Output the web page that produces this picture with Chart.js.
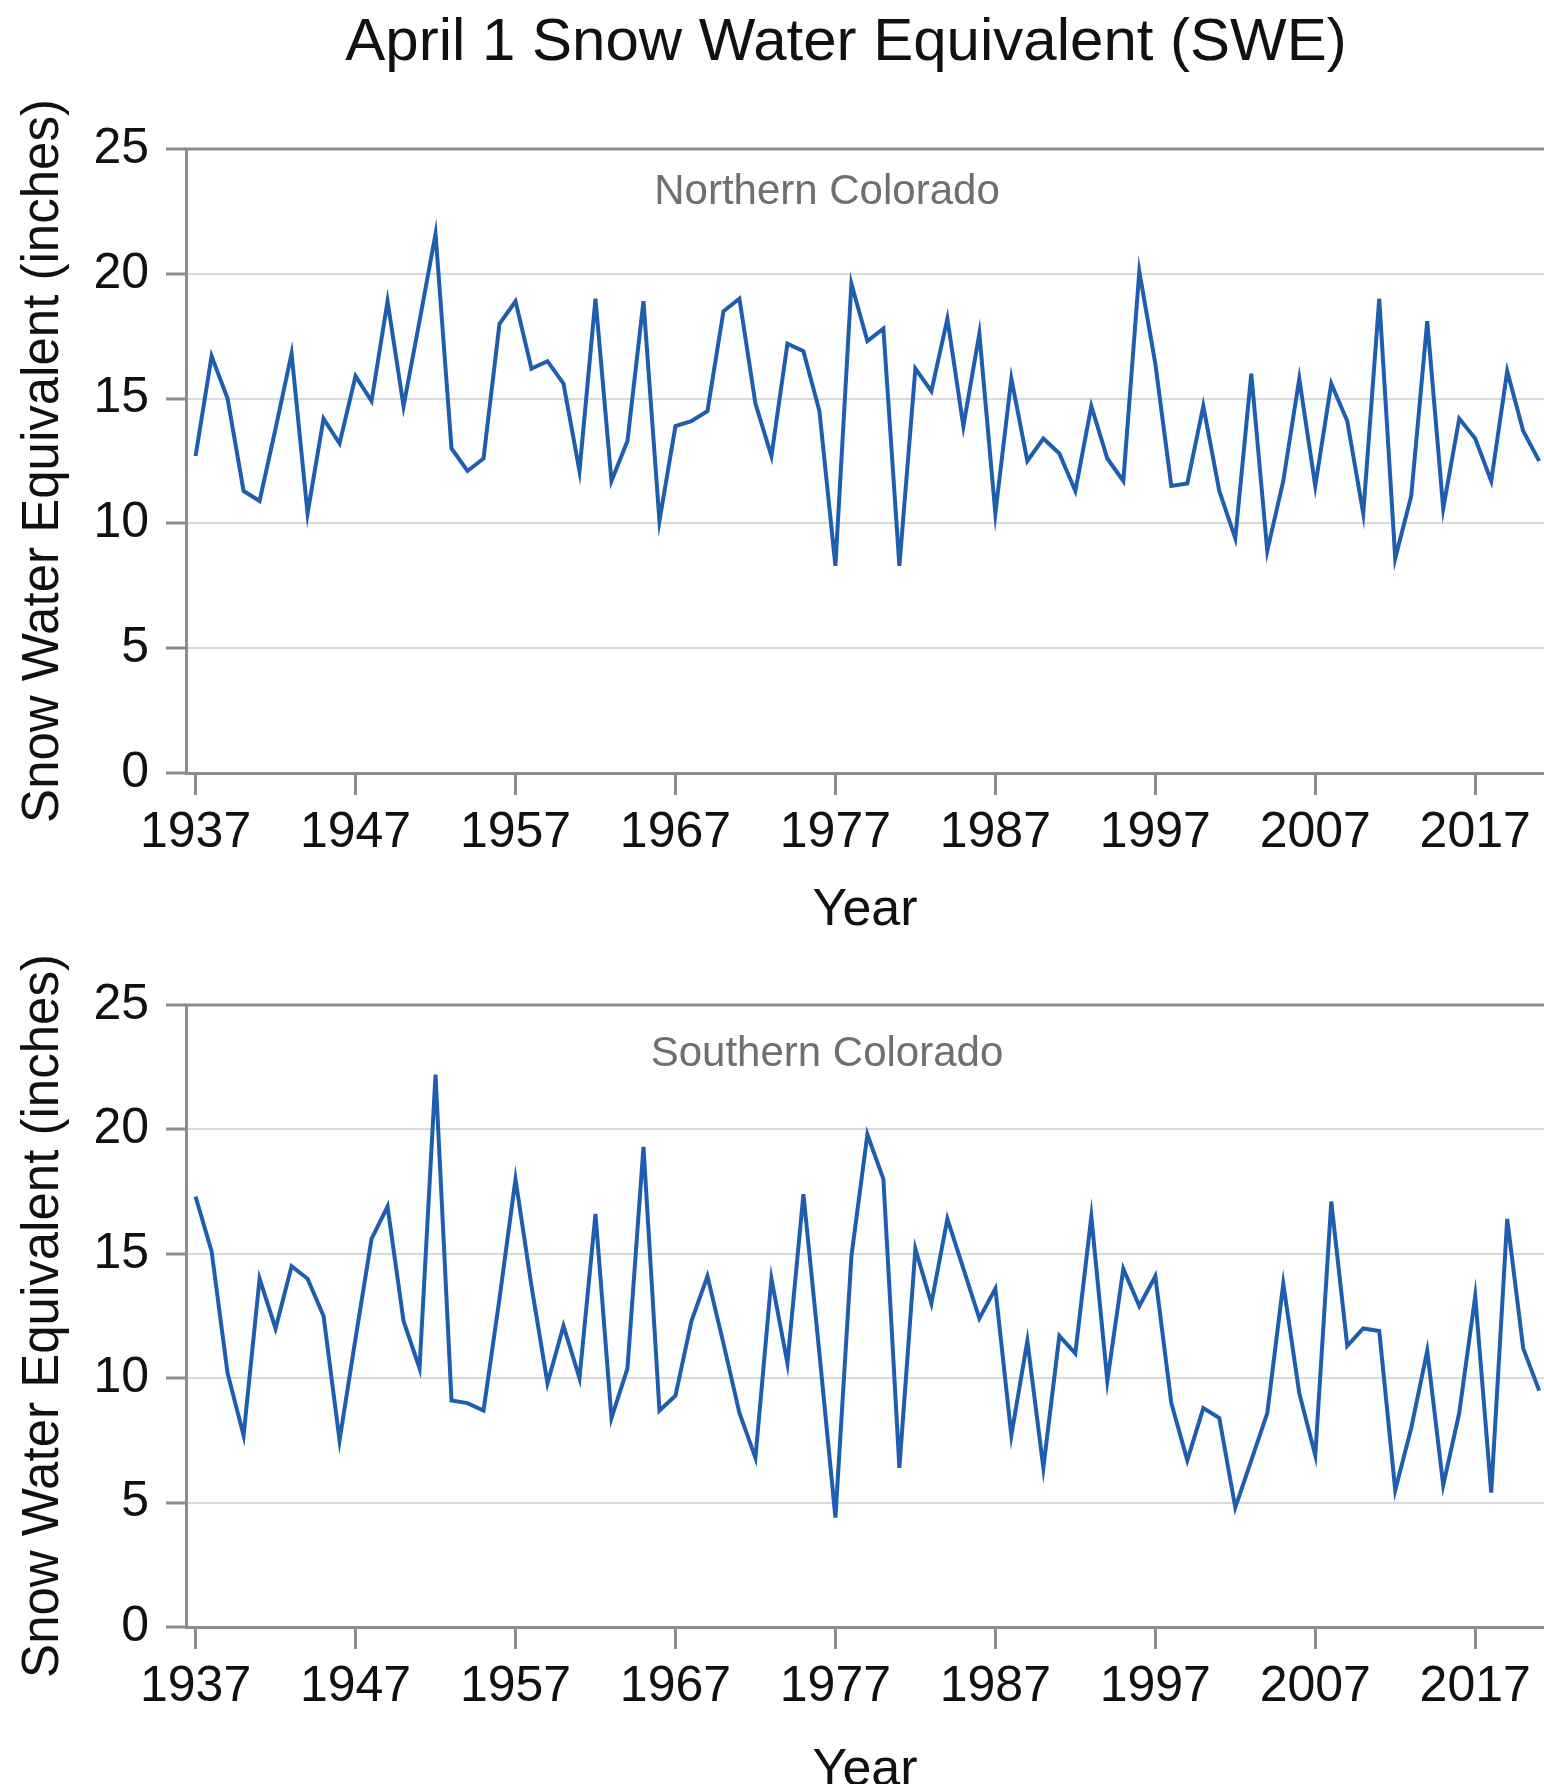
<!DOCTYPE html>
<html>
<head>
<meta charset="utf-8">
<title>April 1 Snow Water Equivalent (SWE)</title>
<script src="https://cdn.jsdelivr.net/npm/chart.js@4.4.1/dist/chart.umd.min.js"></script>
<style>
  html, body { margin: 0; padding: 0; background: #ffffff; overflow: hidden; width: 1544px; height: 1784px; }
  #c1 { position: absolute; left: 0; top: 0; }
  #c2 { position: absolute; left: 0; top: 945px; }
</style>
</head>
<body>
<canvas id="c1" width="1544" height="942"></canvas>
<canvas id="c2" width="1544" height="857"></canvas>
<script>
// ---------------- DATA ----------------
const years = [
  1937,1938,1939,1940,1941,1942,1943,1944,1945,1946,
  1947,1948,1949,1950,1951,1952,1953,1954,1955,1956,
  1957,1958,1959,1960,1961,1962,1963,1964,1965,1966,
  1967,1968,1969,1970,1971,1972,1973,1974,1975,1976,
  1977,1978,1979,1980,1981,1982,1983,1984,1985,1986,
  1987,1988,1989,1990,1991,1992,1993,1994,1995,1996,
  1997,1998,1999,2000,2001,2002,2003,2004,2005,2006,
  2007,2008,2009,2010,2011,2012,2013,2014,2015,2016,
  2017,2018,2019,2020,2021
];

const northernSWE = [
  12.7,16.7,15.0,11.3,10.9,13.8,16.8,10.4,14.2,13.2,
  15.9,14.9,18.9,14.7,18.1,21.6,13.0,12.1,12.6,18.0,
  18.9,16.2,16.5,15.6,12.1,19.0,11.7,13.3,18.9,10.1,
  13.9,14.1,14.5,18.5,19.0,14.8,12.7,17.2,16.9,14.5,
  8.3,19.6,17.3,17.8,8.3,16.2,15.3,18.2,13.9,17.6,
  10.4,15.8,12.5,13.4,12.8,11.3,14.7,12.6,11.7,20.1,
  16.4,11.5,11.6,14.7,11.3,9.4,16.0,8.9,11.7,15.8,
  11.5,15.6,14.1,10.4,19.0,8.6,11.1,18.1,10.6,14.2,
  13.4,11.7,16.1,13.7,12.5
];

const southernSWE = [
  17.3,15.1,10.2,7.7,14.0,12.0,14.5,14.0,12.5,7.5,
  11.6,15.6,16.9,12.3,10.4,22.2,9.1,9.0,8.7,13.2,
  18.0,13.7,9.8,12.1,10.0,16.6,8.4,10.4,19.3,8.7,
  9.3,12.3,14.1,11.4,8.6,6.8,14.0,10.6,17.4,11.0,
  4.4,14.9,19.8,18.0,6.4,15.2,13.0,16.4,14.4,12.4,
  13.6,7.7,11.5,6.4,11.7,11.0,16.5,9.9,14.4,12.9,
  14.1,9.0,6.7,8.8,8.4,4.8,6.7,8.6,13.8,9.4,
  6.9,17.1,11.3,12.0,11.9,5.5,8.0,11.1,5.7,8.6,
  13.3,5.4,16.4,11.2,9.5
];

const xTickYears = [1937,1947,1957,1967,1977,1987,1997,2007,2017];
const yTickValues = [0,5,10,15,20,25];

const chartTitle = 'April 1 Snow Water Equivalent (SWE)';
const panelLabels = ['Northern Colorado', 'Southern Colorado'];
const xAxisTitle = 'Year';
const yAxisTitle = 'Snow Water Equivalent (inches)';

// ---------------- STYLE ----------------
const FONT = '"Liberation Sans", Arial, Helvetica, sans-serif';
const LINE_COLOR = '#1f5eae';
const AXIS_COLOR = '#8c8c8c';
const GRID_COLOR = '#d9d9d9';
const TEXT_COLOR = '#111111';
const LABEL_COLOR = '#6f6f6f';

Chart.defaults.font.family = FONT;
Chart.defaults.color = TEXT_COLOR;

// Title and in-panel label plugin, frame top border
const panelDecor = {
  id: 'panelDecor',
  afterDraw(chart, args, opts) {
    const { ctx, chartArea } = chart;
    const w = chartArea.right - chartArea.left;
    ctx.save();
    // top frame line
    ctx.strokeStyle = AXIS_COLOR;
    ctx.lineWidth = 3;
    ctx.beginPath();
    ctx.moveTo(chartArea.left - 1.5, chartArea.top);
    ctx.lineTo(chartArea.right, chartArea.top);
    ctx.stroke();
    // panel label
    ctx.fillStyle = LABEL_COLOR;
    ctx.font = '42px ' + FONT;
    ctx.textAlign = 'center';
    ctx.textBaseline = 'alphabetic';
    ctx.fillText(opts.label, chartArea.left + w * 0.472, chartArea.top + opts.labelOffset);
    // main title
    if (opts.title) {
      ctx.fillStyle = TEXT_COLOR;
      ctx.font = '60px ' + FONT;
      ctx.fillText(opts.title, chartArea.left + w * 0.486, 60);
    }
    ctx.restore();
  }
};

function makeChart(canvasId, values, label, labelOffset, title, padTop, xHeight) {
  return new Chart(document.getElementById(canvasId), {
    type: 'line',
    data: {
      datasets: [{
        label: label,
        data: years.map((y, i) => ({ x: y, y: values[i] })),
        borderColor: LINE_COLOR,
        borderWidth: 4,
        pointRadius: 0,
        tension: 0,
        fill: false
      }]
    },
    options: {
      responsive: false,
      devicePixelRatio: 1,
      animation: false,
      layout: { padding: { top: padTop, left: 0, right: 0, bottom: 0 } },
      plugins: {
        legend: { display: false },
        tooltip: { enabled: false },
        title: { display: false },
        panelDecor: { label: label, labelOffset: labelOffset, title: title }
      },
      scales: {
        x: {
          type: 'linear',
          min: 1936.4,
          max: 2021.3,
          afterBuildTicks: s => { s.ticks = xTickYears.map(v => ({ value: v })); },
          afterFit: s => { s.height = xHeight; },
          ticks: {
            autoSkip: false,
            maxRotation: 0,
            padding: 8,
            color: TEXT_COLOR,
            font: { size: 50 },
            callback: v => String(v)
          },
          grid: {
            drawOnChartArea: false,
            drawTicks: true,
            tickLength: 22,
            tickColor: AXIS_COLOR,
            tickWidth: 3
          },
          border: { display: true, color: AXIS_COLOR, width: 3 },
          title: {
            display: true,
            text: xAxisTitle,
            color: TEXT_COLOR,
            font: { size: 52 },
            padding: { top: 0, bottom: 0 }
          }
        },
        y: {
          min: 0,
          max: 25,
          afterBuildTicks: s => { s.ticks = yTickValues.map(v => ({ value: v })); },
          afterFit: s => { s.width = 186; },
          ticks: {
            padding: 17,
            color: TEXT_COLOR,
            font: { size: 50 },
            callback: v => String(v)
          },
          grid: {
            color: GRID_COLOR,
            lineWidth: 2,
            drawTicks: true,
            tickLength: 20,
            tickColor: AXIS_COLOR,
            tickWidth: 3
          },
          border: { display: true, color: AXIS_COLOR, width: 3 },
          title: {
            display: true,
            text: yAxisTitle,
            color: TEXT_COLOR,
            font: { size: 51 },
            padding: { top: 13, bottom: 0 }
          }
        }
      }
    },
    plugins: [panelDecor]
  });
}

makeChart('c1', northernSWE, panelLabels[0], 55, chartTitle, 149, 169);
makeChart('c2', southernSWE, panelLabels[1], 61, null, 60, 175);
</script>
</body>
</html>
